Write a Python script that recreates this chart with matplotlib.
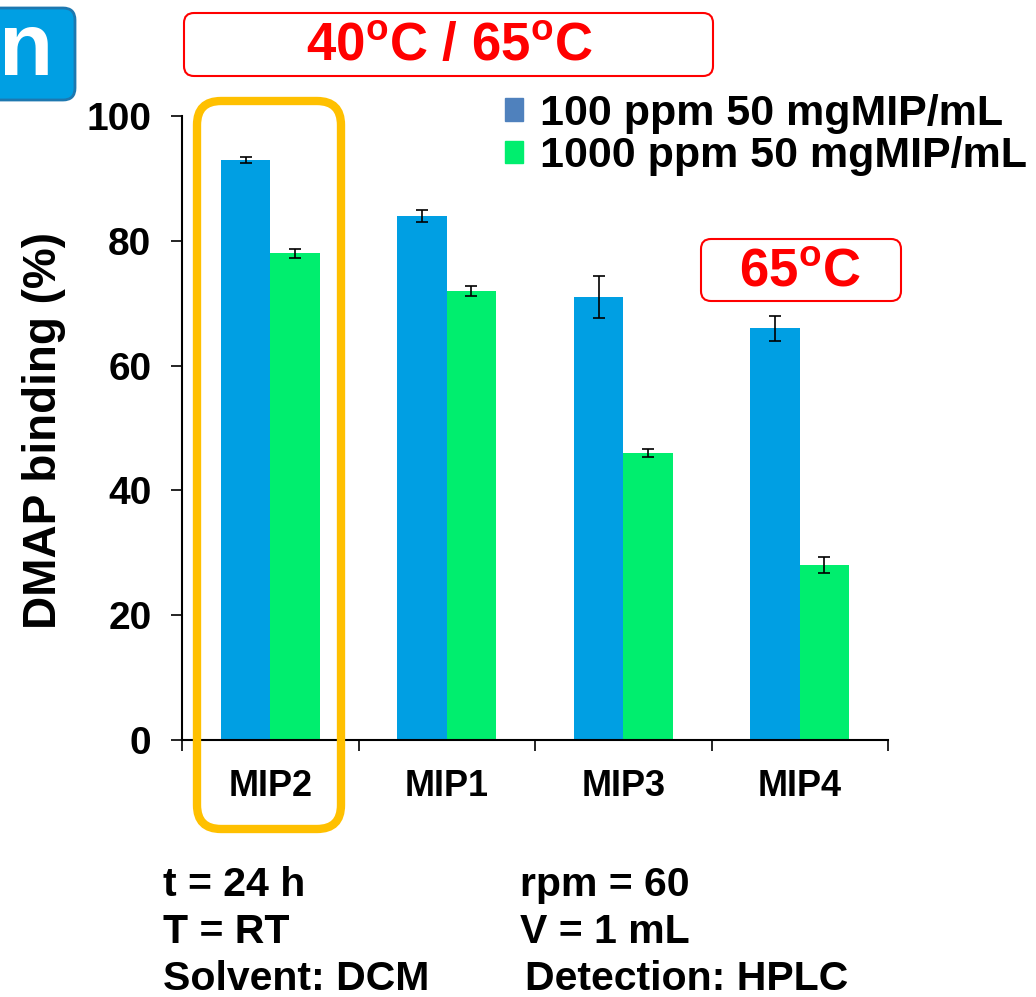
import matplotlib
matplotlib.use("Agg")
import matplotlib.pyplot as plt
from matplotlib.patches import Patch, FancyBboxPatch

# フォント設定（Arial互換のLiberation Sansを太字で使う）
plt.rcParams["font.family"] = ["Liberation Sans", "DejaVu Sans"]
plt.rcParams["font.weight"] = "bold"
plt.rcParams["mathtext.fontset"] = "custom"
plt.rcParams["mathtext.rm"] = "Liberation Sans:bold"
plt.rcParams["mathtext.bf"] = "Liberation Sans:bold"

# データ
categories = ["MIP2", "MIP1", "MIP3", "MIP4"]
binding_100ppm = [93, 84, 71, 66]
err_100ppm = [0.5, 1.0, 3.3, 2.0]
binding_1000ppm = [78, 72, 46, 28]
err_1000ppm = [0.7, 0.8, 0.6, 1.3]
series_labels = ["100 ppm 50 mgMIP/mL", "1000 ppm 50 mgMIP/mL"]
yticks = [0, 20, 40, 60, 80, 100]

W, H = 1036, 997
blue = "#009FE3"
green = "#00EE6E"

fig = plt.figure(figsize=(W / 100, H / 100), dpi=100)
ax = fig.add_axes([182 / W, 1 - 740 / H, 706 / W, 624 / H])

width = 0.28
x = [i + 0.5 for i in range(len(categories))]
ax.bar([v - width / 2 for v in x], binding_100ppm, width, color=blue, zorder=2)
ax.bar([v + width / 2 for v in x], binding_1000ppm, width, color=green, zorder=2)
ax.errorbar([v - width / 2 for v in x], binding_100ppm, yerr=err_100ppm,
            fmt="none", ecolor="black", elinewidth=1.2, capsize=4, capthick=1.2, zorder=3)
ax.errorbar([v + width / 2 for v in x], binding_1000ppm, yerr=err_1000ppm,
            fmt="none", ecolor="black", elinewidth=1.2, capsize=4, capthick=1.2, zorder=3)

ax.set_xlim(0, len(categories))
ax.set_ylim(0, 100)
ax.set_yticks(yticks)
ax.set_yticklabels([str(t) for t in yticks], fontsize=28, fontweight="bold")
ax.set_xticks(x)
ax.set_xticklabels(categories, fontsize=26, fontweight="bold")
ax.set_xticks(range(len(categories) + 1), minor=True)
ax.tick_params(axis="x", which="major", length=0, pad=21)
ax.tick_params(axis="x", which="minor", length=8, width=1.2)
ax.tick_params(axis="y", length=8, width=1.2, pad=14)
ax.spines["top"].set_visible(False)
ax.spines["right"].set_visible(False)
ax.spines["left"].set_linewidth(1.5)
ax.spines["bottom"].set_linewidth(1.5)

# 凡例（マーカーの色は元図に合わせる）
handles = [Patch(color="#4F81BD", label=series_labels[0]),
           Patch(color=green, label=series_labels[1])]
ax.legend(handles=handles, loc="upper left", bbox_to_anchor=(505 / W, 1 - 94 / H),
          bbox_transform=fig.transFigure, frameon=False, fontsize=31,
          handlelength=0.42, handleheight=0.42, handletextpad=0.4,
          labelspacing=0.05, borderaxespad=0, borderpad=0)

# 注釈用のオーバーレイ（ピクセル座標）
ov = fig.add_axes([0, 0, 1, 1], zorder=5)
ov.set_xlim(0, W)
ov.set_ylim(H, 0)
ov.axis("off")
ov.patch.set_alpha(0)

# 左上の「n」ラベル
ov.add_patch(FancyBboxPatch((-20, 8), 95, 92, boxstyle="round,pad=0,rounding_size=12",
                            facecolor=blue, edgecolor="#1D78B0", linewidth=2))
ov.text(26, 52, "n", color="white", fontsize=64, fontweight="bold", ha="center", va="center")

# 赤枠の温度表示
ov.add_patch(FancyBboxPatch((184, 13), 529, 63, boxstyle="round,pad=0,rounding_size=10",
                            facecolor="white", edgecolor="red", linewidth=1.5))
ov.text(449, 47, r"40$^{\mathrm{o}}$C / 65$^{\mathrm{o}}$C", color="red", fontsize=38,
        fontweight="bold", ha="center", va="center")
ov.add_patch(FancyBboxPatch((701, 239), 200, 62, boxstyle="round,pad=0,rounding_size=10",
                            facecolor="white", edgecolor="red", linewidth=1.5))
ov.text(800, 272, r"65$^{\mathrm{o}}$C", color="red", fontsize=38,
        fontweight="bold", ha="center", va="center")

# MIP2を囲むオレンジ枠
ov.add_patch(FancyBboxPatch((197, 101), 144, 728, boxstyle="round,pad=0,rounding_size=24",
                            facecolor="none", edgecolor="#FFC000", linewidth=6))

# y軸ラベル
ov.text(44, 430, "DMAP binding (%)", fontsize=33, fontweight="bold",
        rotation=90, ha="center", va="center")

# 実験条件
conds_left = ["t = 24 h", "T = RT", "Solvent: DCM"]
conds_right = ["rpm = 60", "V = 1 mL", "Detection: HPLC"]
right_x = [520, 520, 525]
for i, (l, r) in enumerate(zip(conds_left, conds_right)):
    yb = 896 + i * 47
    ov.text(163, yb, l, fontsize=29.5, fontweight="bold", va="baseline")
    ov.text(right_x[i], yb, r, fontsize=29.5, fontweight="bold", va="baseline")

fig.savefig("out.png", dpi=100)
